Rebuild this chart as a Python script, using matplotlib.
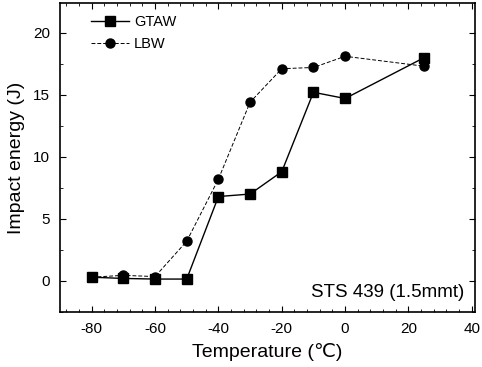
import matplotlib
matplotlib.use('Agg')
import matplotlib.pyplot as plt
from matplotlib.ticker import MultipleLocator, AutoMinorLocator

plt.rcParams['font.family'] = ['Liberation Sans', 'DejaVu Sans']
plt.rcParams['axes.unicode_minus'] = False

# Data
temps = [-80, -70, -60, -50, -40, -30, -20, -10, 0, 25]
gtaw = [0.3, 0.2, 0.15, 0.15, 6.8, 7.0, 8.8, 15.2, 14.7, 18.0]
lbw = [0.3, 0.45, 0.35, 3.2, 8.2, 14.4, 17.1, 17.2, 18.1, 17.3]

fig = plt.figure(figsize=(4.82, 3.67), dpi=100)
ax = fig.add_axes([0.1245, 0.150, 0.861, 0.842])

ax.plot(temps, gtaw, marker='s', color='black', lw=1.0, ms=6.5, label='GTAW')
ax.plot(temps, lbw, marker='o', color='black', lw=0.7, ms=6.5,
        linestyle=(0, (4, 2)), label='LBW')

ax.set_xlim(-90, 41)
ax.set_ylim(-2.5, 22.4)
ax.xaxis.set_major_locator(MultipleLocator(20))
ax.xaxis.set_minor_locator(AutoMinorLocator(5))
ax.yaxis.set_major_locator(MultipleLocator(5))
ax.yaxis.set_minor_locator(AutoMinorLocator(2))
ax.tick_params(which='both', direction='in', top=True, right=True, labelsize=11, pad=7)
ax.tick_params(which='major', length=4)
ax.tick_params(which='minor', length=2)
for s in ax.spines.values():
    s.set_linewidth(1.2)

ax.set_xlabel('Temperature (℃)', fontsize=14, labelpad=5)
ax.set_ylabel('Impact energy (J)', fontsize=14, labelpad=6)

ax.text(0.975, 0.035, 'STS 439 (1.5mmt)', transform=ax.transAxes,
        ha='right', va='bottom', fontsize=13.5)

ax.legend(loc='upper left', bbox_to_anchor=(0.06, 0.98), frameon=False,
          fontsize=10.5, handlelength=2.6, handletextpad=0.35, labelspacing=0.55,
          borderaxespad=0.0)

fig.savefig('out.png', dpi=100)
